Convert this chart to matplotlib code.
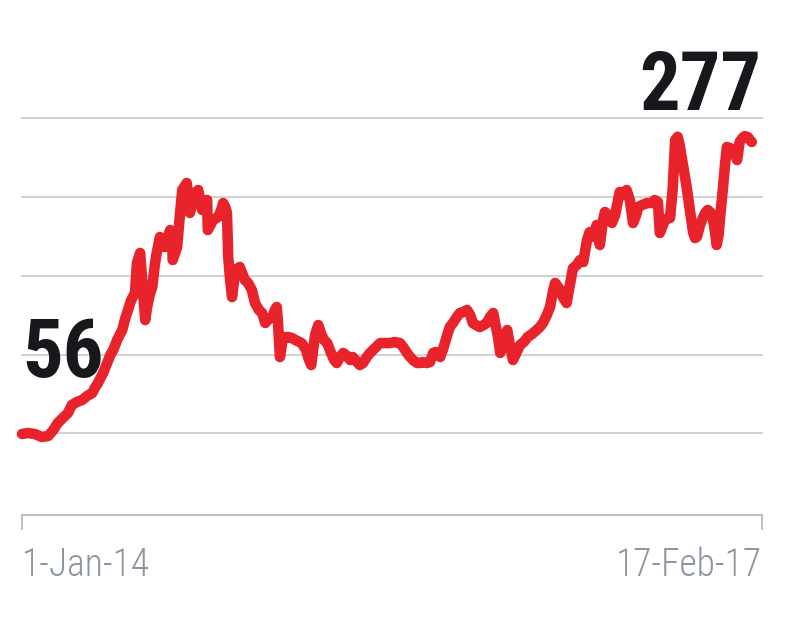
import matplotlib
matplotlib.use("Agg")
import matplotlib.pyplot as plt
from matplotlib import font_manager
import pandas as pd

# ---- data ----
start_date = "2014-01-01"
day_offsets = [
    0, 9, 20, 31, 41, 49, 56, 64, 72, 78, 86, 94, 102, 110, 114, 119, 127, 132, 135, 139,
    143, 149, 157, 161, 166, 171, 177, 180, 185, 189, 193, 196, 200, 204, 208, 211, 216, 221, 224, 229,
    232, 235, 236, 243, 247, 251, 255, 258, 263, 268, 271, 276, 282, 287, 290, 291, 296, 299, 307, 312,
    315, 319, 321, 323, 326, 329, 334, 341, 349, 354, 360, 365, 371, 376, 381, 385, 392, 396, 399, 401,
    404, 409, 413, 417, 423, 428, 438, 445, 448, 451, 453, 459, 464, 468, 473, 478, 484, 489, 493, 498,
    503, 509, 514, 518, 525, 529, 534, 540, 545, 553, 561, 568, 576, 584, 592, 598, 603, 608, 614, 619,
    623, 628, 634, 639, 644, 648, 655, 659, 666, 670, 675, 681, 686, 691, 697, 702, 706, 711, 717, 723,
    728, 733, 738, 741, 745, 749, 753, 760, 764, 769, 775, 780, 786, 792, 799, 806, 811, 816, 822, 827,
    832, 835, 843, 847, 853, 858, 863, 869, 874, 879, 885, 889, 894, 900, 905, 910, 913, 918, 924, 929,
    936, 941, 947, 952, 957, 962, 965, 971, 979, 987, 991, 996, 999, 1004, 1007, 1012, 1015, 1019, 1023, 1027,
    1030, 1034, 1038, 1041, 1046, 1051, 1054, 1057, 1062, 1065, 1070, 1074, 1079, 1082, 1085, 1088, 1091, 1093, 1096, 1098,
    1101, 1104, 1109, 1113, 1117, 1120, 1124, 1129, 1132, 1137, 1140, 1143,
]
values = [
    57.5, 58.2, 57.5, 55.3, 56.0, 60.4, 65.6, 69.3, 73.0, 78.8, 81.1, 82.5, 85.5, 87.7, 91.4, 95.1, 102.4, 108.3, 112.0, 116.4,
    119.4, 126.8, 134.1, 141.5, 148.9, 156.2, 161.4, 183.5, 190.9, 165.8, 141.5, 151.1, 159.9, 165.8, 182.0, 190.9, 202.7, 196.8, 195.3, 203.4,
    207.8, 206.3, 185.7, 195.3, 217.4, 237.3, 240.3, 242.5, 220.4, 229.9, 235.1, 237.3, 222.6, 227.7, 229.9, 207.8, 212.2, 215.2, 217.4, 222.6,
    227.7, 224.0, 220.4, 187.9, 171.0, 158.4, 178.3, 180.6, 171.0, 168.8, 163.6, 154.0, 148.9, 146.7, 139.3, 141.5, 143.7, 148.9, 151.1, 139.3,
    114.2, 129.0, 128.2, 129.0, 128.2, 126.8, 124.5, 119.4, 114.2, 110.5, 108.3, 130.4, 137.8, 131.9, 126.8, 124.5, 117.2, 112.0, 109.8, 114.2,
    117.2, 115.0, 112.0, 114.2, 110.5, 108.3, 109.8, 114.2, 117.2, 120.9, 124.5, 124.5, 124.5, 125.3, 124.5, 120.9, 117.2, 114.2, 111.3, 109.8,
    109.8, 110.5, 109.8, 110.5, 117.2, 117.9, 114.2, 119.4, 130.4, 136.3, 139.3, 143.7, 146.7, 147.4, 148.9, 145.2, 139.3, 137.8, 136.3, 137.8,
    139.3, 143.7, 146.7, 139.3, 130.4, 117.2, 123.1, 134.1, 123.1, 112.0, 117.9, 123.1, 125.3, 129.0, 131.2, 134.1, 136.3, 139.3, 145.2, 151.1,
    163.6, 168.8, 163.6, 158.4, 154.0, 167.3, 179.8, 182.0, 185.7, 184.2, 200.5, 206.3, 202.7, 211.5, 196.8, 215.2, 221.1, 218.9, 213.0, 218.9,
    235.8, 233.6, 237.3, 229.9, 213.0, 218.9, 224.8, 226.2, 227.7, 227.7, 229.9, 228.5, 205.6, 211.5, 215.2, 216.7, 216.7, 237.3, 274.2, 276.5,
    270.5, 259.4, 248.4, 239.5, 222.6, 206.3, 201.9, 202.7, 211.5, 215.2, 220.4, 222.6, 220.4, 216.7, 207.8, 196.8, 204.1, 215.2, 229.9, 239.5,
    255.7, 269.0, 268.3, 266.8, 263.1, 259.4, 272.7, 276.0, 277.0, 276.2, 274.2, 272.7,
]
grid_values = [58, 116, 174, 232, 290]
axis_days = [0, 1159]
tick_labels = ["1-Jan-14", "17-Feb-17"]
end_labels = ["56", "277"]

# ---- styling ----
RED = "#e8232b"
GRID = "#d2d2d2"
AXIS = "#bfc1c4"
TICKTXT = "#8d95a0"
DARK = "#16181c"

# choose a narrow face if one is installed
entries = font_manager.fontManager.ttflist
names = {f.name for f in entries}
narrow = None
for cand in ["Liberation Sans Narrow", "Roboto Condensed", "Open Sans Condensed",
             "Noto Sans Condensed", "DejaVu Sans Condensed"]:
    if cand in names:
        narrow = cand
        break
stretch = "normal"
if narrow is None:
    if any(f.name == "DejaVu Sans" and str(f.stretch) == "condensed" for f in entries):
        narrow = "DejaVu Sans"
        stretch = "condensed"

if narrow is not None and narrow != "DejaVu Sans":
    NUM_FONT = [narrow, "DejaVu Sans"]
    num_size, tick_size = 58, 27
elif narrow == "DejaVu Sans":
    NUM_FONT = ["DejaVu Sans"]
    num_size, tick_size = 46, 22
else:
    NUM_FONT = ["Roboto", "DejaVu Sans"]
    num_size, tick_size = 50, 22

dates = pd.to_datetime(start_date) + pd.to_timedelta(day_offsets, unit="D")
axis_dates = pd.to_datetime(start_date) + pd.to_timedelta(axis_days, unit="D")

fig = plt.figure(figsize=(8.01, 6.40), dpi=100)
ax = fig.add_axes([22 / 801, (640 - 515) / 640, 740 / 801, (515 - 117) / 640])

ax.set_xlim(axis_dates[0], axis_dates[1])
ax.set_ylim(-2.2, 291.1)

for g in grid_values:
    ax.axhline(g, color=GRID, lw=1.5, zorder=1, clip_on=False)

ax.plot(dates, values, color=RED, lw=7.6, solid_joinstyle="round",
        solid_capstyle="round", zorder=3, clip_on=False)

for s in ["top", "right", "left"]:
    ax.spines[s].set_visible(False)
ax.spines["bottom"].set_color(AXIS)
ax.spines["bottom"].set_linewidth(1.6)
ax.set_yticks([])

ax.set_xticks(axis_dates, tick_labels)
ax.tick_params(axis="x", direction="out", length=10.5, width=1.4, color=AXIS,
               labelcolor=TICKTXT, pad=12, labelsize=tick_size)
labels = ax.get_xticklabels()
labels[0].set_ha("left")
labels[1].set_ha("right")
for lab in labels:
    lab.set_family(NUM_FONT)
    lab.set_stretch(stretch)
    lab.set_fontweight("light")

ax.annotate(end_labels[0], xy=(dates[0], values[0]), xytext=(0, 41),
            textcoords="offset points", ha="left", va="baseline",
            fontsize=num_size, fontweight="bold", color=DARK, family=NUM_FONT,
            fontstretch=stretch, zorder=4)
ax.annotate(end_labels[1], xy=(dates[-1], values[-1]), xytext=(6.5, 23),
            textcoords="offset points", ha="right", va="baseline",
            fontsize=num_size, fontweight="bold", color=DARK, family=NUM_FONT,
            fontstretch=stretch, zorder=4)

fig.savefig("out.png", dpi=100)
